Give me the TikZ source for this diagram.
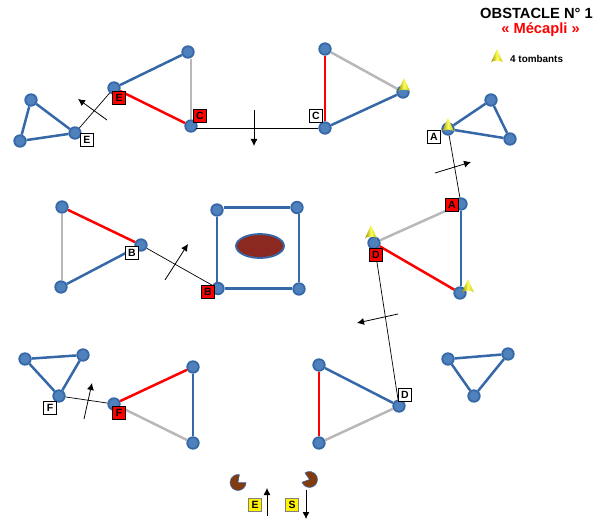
\documentclass[tikz,border=0pt]{standalone}
\usepackage{fontspec}
\setmainfont{Liberation Sans}
\usetikzlibrary{arrows,arrows.meta,shapes,positioning}
\definecolor{edgeblue}{RGB}{54,104,168}
\definecolor{dotblue}{RGB}{79,129,189}
\definecolor{edgegray}{RGB}{184,184,184}
\definecolor{brownfill}{RGB}{139,41,32}
\definecolor{pacbrown}{RGB}{128,60,16}
\definecolor{conedark}{RGB}{150,150,0}
\definecolor{conelight}{RGB}{255,255,90}
\tikzset{
  vertex/.style={circle,draw=edgeblue,fill=dotblue,line width=1.8pt,minimum size=11.5pt,inner sep=0pt},
  blueedge/.style={edgeblue,line width=2.5pt},
  rededge/.style={red,line width=2.5pt},
  grayedge/.style={edgegray,line width=2.5pt},
  link/.style={black,line width=0.7pt},
  move/.style={black,line width=0.8pt,-{Latex[length=7pt,width=7pt]}},
  tag/.style={draw=black,line width=0.7pt,font=\bfseries\fontsize{10.5}{10.5}\selectfont,minimum size=12.5pt,inner sep=0pt},
  whitetag/.style={tag,fill=white},
  redtag/.style={tag,fill=red},
  yellowtag/.style={tag,draw=gray,fill=yellow},
  cone/.pic={
    \shade[left color=conedark,right color=conedark!60!yellow,middle color=conelight] (-6,5.5) -- (0,-8) -- (6,5.5) arc (0:-180:6 and 1.8) -- cycle;
  }
}
\begin{document}
\begin{tikzpicture}[x=1pt,y=-1pt]
  \useasboundingbox (0,0) rectangle (593,521);
  % small triangle top left
  \node [vertex] (tl1) at (31,100) {};
  \node [vertex] (tl2) at (20,141) {};
  \node [vertex] (tl3) at (75,133) {};
  % triangle E C
  \node [vertex] (ec1) at (114,88) {};
  \node [vertex] (ec2) at (188,52) {};
  \node [vertex] (ec3) at (191,126) {};
  % triangle C
  \node [vertex] (ca1) at (325,49) {};
  \node [vertex] (ca2) at (403,92) {};
  \node [vertex] (ca3) at (325,128) {};
  % small triangle top right
  \node [vertex] (tr1) at (448,129) {};
  \node [vertex] (tr2) at (491,100) {};
  \node [vertex] (tr3) at (510,139) {};
  % triangle A D
  \node [vertex] (ad1) at (461,204) {};
  \node [vertex] (ad2) at (374,243) {};
  \node [vertex] (ad3) at (460,293) {};
  % square
  \node [vertex] (sq1) at (217,210) {};
  \node [vertex] (sq2) at (297,207.5) {};
  \node [vertex] (sq3) at (299,289) {};
  \node [vertex] (sq4) at (218,288.5) {};
  % triangle B
  \node [vertex] (bb1) at (62,207) {};
  \node [vertex] (bb2) at (61,287) {};
  \node [vertex] (bb3) at (141,245) {};
  % small triangle bottom left
  \node [vertex] (bl1) at (25,359) {};
  \node [vertex] (bl2) at (83,355) {};
  \node [vertex] (bl3) at (59,396) {};
  % triangle F
  \node [vertex] (ff1) at (114,404) {};
  \node [vertex] (ff2) at (193,367) {};
  \node [vertex] (ff3) at (193,443) {};
  % triangle D
  \node [vertex] (dd1) at (319,365) {};
  \node [vertex] (dd2) at (399,406) {};
  \node [vertex] (dd3) at (319,443) {};
  % small triangle bottom right
  \node [vertex] (br1) at (448,359) {};
  \node [vertex] (br2) at (508,354) {};
  \node [vertex] (br3) at (474,396) {};
  % edges
  \draw [blueedge] (tl1) -- (tl2);
  \draw [blueedge] (tl2) -- (tl3);
  \draw [blueedge] (tl3) -- (tl1);
  \draw [blueedge] (ec1) -- (ec2);
  \draw [grayedge] (ec3 |- ec2.south) -- (ec3);
  \draw [rededge] (ec3) -- (ec1);
  \draw [grayedge] (ca1) -- (ca2);
  \draw [blueedge] (ca2) -- (ca3);
  \draw [rededge] (ca3) -- (ca1);
  \draw [blueedge] (tr1) -- (tr2);
  \draw [blueedge] (tr2) -- (tr3);
  \draw [blueedge] (tr3) -- (tr1);
  \draw [grayedge] (ad1) -- (ad2);
  \draw [rededge] (ad2) -- (ad3);
  \draw [blueedge] (ad3.north -| ad1) -- (ad1);
  \draw [blueedge] (sq1.east |- sq2) -- (sq2);
  \draw [blueedge] (sq2.south -| sq3) -- (sq3);
  \draw [blueedge] (sq3.west |- sq4) -- (sq4);
  \draw [blueedge] (sq4.north -| sq1) -- (sq1);
  \draw [rededge] (bb1) -- (bb3);
  \draw [blueedge] (bb3) -- (bb2);
  \draw [grayedge] (bb2.north -| bb1) -- (bb1);
  \draw [blueedge] (bl1) -- (bl2);
  \draw [blueedge] (bl2) -- (bl3);
  \draw [blueedge] (bl3) -- (bl1);
  \draw [rededge] (ff1) -- (ff2);
  \draw [blueedge] (ff2) -- (ff3);
  \draw [grayedge] (ff3) -- (ff1);
  \draw [blueedge] (dd1) -- (dd2);
  \draw [grayedge] (dd2) -- (dd3);
  \draw [rededge] (dd3) -- (dd1);
  \draw [blueedge] (br1) -- (br2);
  \draw [blueedge] (br2) -- (br3);
  \draw [blueedge] (br3) -- (br1);
  % links between triangles
  \draw [link] (tl3) -- (ec1);
  \draw [link] (ec3.south east |- ca3) -- (ca3);
  \draw [link] (bb3) -- (sq4);
  \draw [link] (tr1) -- (ad1);
  \draw [link] (ad2) -- (dd2);
  \draw [link] (bl3) -- (ff1);
  % ellipse in the square
  \node [ellipse,draw=edgeblue,fill=brownfill,line width=1.8pt,minimum width=48pt,minimum height=24pt,inner sep=0pt] (hole) at (260,246) {};
  % moves
  \coordinate (m1a) at (107,120); \coordinate (m1b) at (78,99);
  \coordinate (m2a) at (254,110); \coordinate (m2b) at (254,146);
  \coordinate (m3a) at (165,280); \coordinate (m3b) at (188,244);
  \coordinate (m4a) at (435,173); \coordinate (m4b) at (471,162);
  \coordinate (m5a) at (398,314); \coordinate (m5b) at (357,323);
  \coordinate (m6a) at (84,419); \coordinate (m6b) at (92,383);
  \coordinate (m7a) at (267,516); \coordinate (m7b) at (267,488);
  \coordinate (m8a) at (306,490); \coordinate (m8b) at (306,519);
  \draw [move] (m1a) -- (m1b);
  \draw [move] (m2a) -- (m2b);
  \draw [move] (m3a) -- (m3b);
  \draw [move] (m4a) -- (m4b);
  \draw [move] (m5a) -- (m5b);
  \draw [move] (m6a) -- (m6b);
  \draw [move] (m7a) -- (m7b);
  \draw [move] (m8a) -- (m8b);
  % tags
  \node [whitetag] (te1) at (87,140) {E};
  \node [redtag] (te2) at (119,98) {E};
  \node [redtag] (tc1) at (200,116) {C};
  \node [whitetag] (tc2) at (316,116) {C};
  \node [whitetag] (ta1) at (434,137) {A};
  \node [redtag] (ta2) at (452,205) {A};
  \node [whitetag] (tb1) at (132,253) {B};
  \node [redtag] (tb2) at (208,292) {B};
  \node [redtag] (td1) at (376,255) {D};
  \node [whitetag] (td2) at (405,395) {D};
  \node [whitetag] (tf1) at (50,408) {F};
  \node [redtag] (tf2) at (119,413) {F};
  \node [yellowtag] (ye) at (255,505) {E};
  \node [yellowtag] (ys) at (292,505) {S};
  % cones
  \pic at (404,86) {cone};
  \pic at (448,126) {cone};
  \pic at (371,233) {cone};
  \pic at (468,287) {cone};
  \pic at (497,57) {cone};
  % pacmen
  \fill [pacbrown,draw=edgeblue,line width=0.5pt] (238,482.5) -- (246,482.5) arc (0:280:8) -- cycle;
  \fill [pacbrown,draw=edgeblue,line width=0.5pt] (309.5,479.5) -- (302,482.2) arc (-200:-485:8) -- cycle;
  % title
  \node [font=\bfseries\fontsize{14.7}{14.7}\selectfont,anchor=east,inner sep=0pt] (title) at (593,13) {OBSTACLE N° 1};
  \node [font=\bfseries\fontsize{14.7}{14.7}\selectfont,text=red,inner sep=0pt] (subtitle) at (540.5,30) {« Mécapli »};
  \node [font=\bfseries\fontsize{9.9}{9.9}\selectfont,anchor=west,inner sep=0pt] (legend) at (510,58.5) {4 tombants};
\end{tikzpicture}
\end{document}
